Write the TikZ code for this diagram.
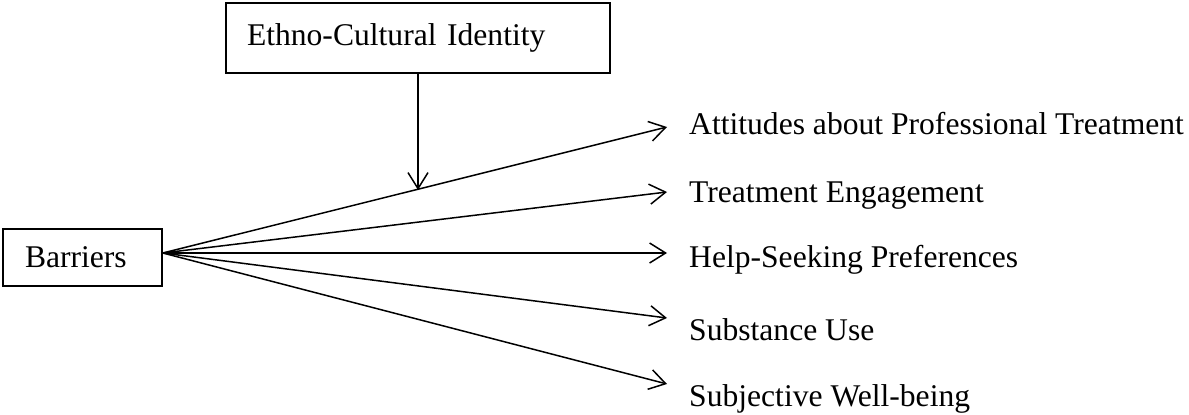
\documentclass[tikz,border=0pt]{standalone}
\usepackage{fontspec}
\setmainfont{Liberation Serif}
\usetikzlibrary{positioning, arrows.meta, calc}

\begin{document}
\begin{tikzpicture}[x=1pt, y=-1pt,
        box/.style={rectangle, draw=black, line width=1.6pt, align=left, inner sep=0pt, font=\fontsize{31.6}{38}\selectfont},
        outcome/.style={anchor=base west, inner sep=0pt, font=\fontsize{31.6}{38}\selectfont},
        link/.style={line width=1.5pt, -{Straight Barb[length=16pt, width=20pt, line width=1.5pt]}},
    ]
    \useasboundingbox (0,0) rectangle (1189,415);

    % Boxes
    \node[box, minimum width=384pt, minimum height=70pt, text width=342pt] (ethno) at (418,38) {Ethno-Cultural Identity};
    \node[box, minimum width=159pt, minimum height=57pt, text width=115pt] (barriers) at (82.5,257.5) {Barriers};

    % Outcomes
    \node[outcome] (att)  at (689,134) {Attitudes about Professional Treatment};
    \node[outcome] (eng)  at (689,202) {Treatment Engagement};
    \node[outcome] (help) at (689,267) {Help-Seeking Preferences};
    \node[outcome] (subs) at (689,340) {Substance Use};
    \node[outcome] (well) at (689,406) {Subjective Well-being};

    % Arrow ends
    \coordinate (fan) at ([yshift=4.5pt]barriers.east);
    \coordinate (attend)  at (667,127);
    \coordinate (engend)  at (667,192);
    \coordinate (helpend) at (667,253);
    \coordinate (subsend) at (667,318);
    \coordinate (wellend) at (667,384);

    \draw[link] (fan) -- (attend);
    \draw[link] (fan) -- (engend);
    \draw[link] (fan) -- (helpend);
    \draw[link] (fan) -- (subsend);
    \draw[link] (fan) -- (wellend);

    % Moderator
    \path (fan) -- (attend) coordinate[pos=0.5] (hit);
    \draw[link] (ethno.south) -- (ethno.south |- hit);
\end{tikzpicture}
\end{document}
